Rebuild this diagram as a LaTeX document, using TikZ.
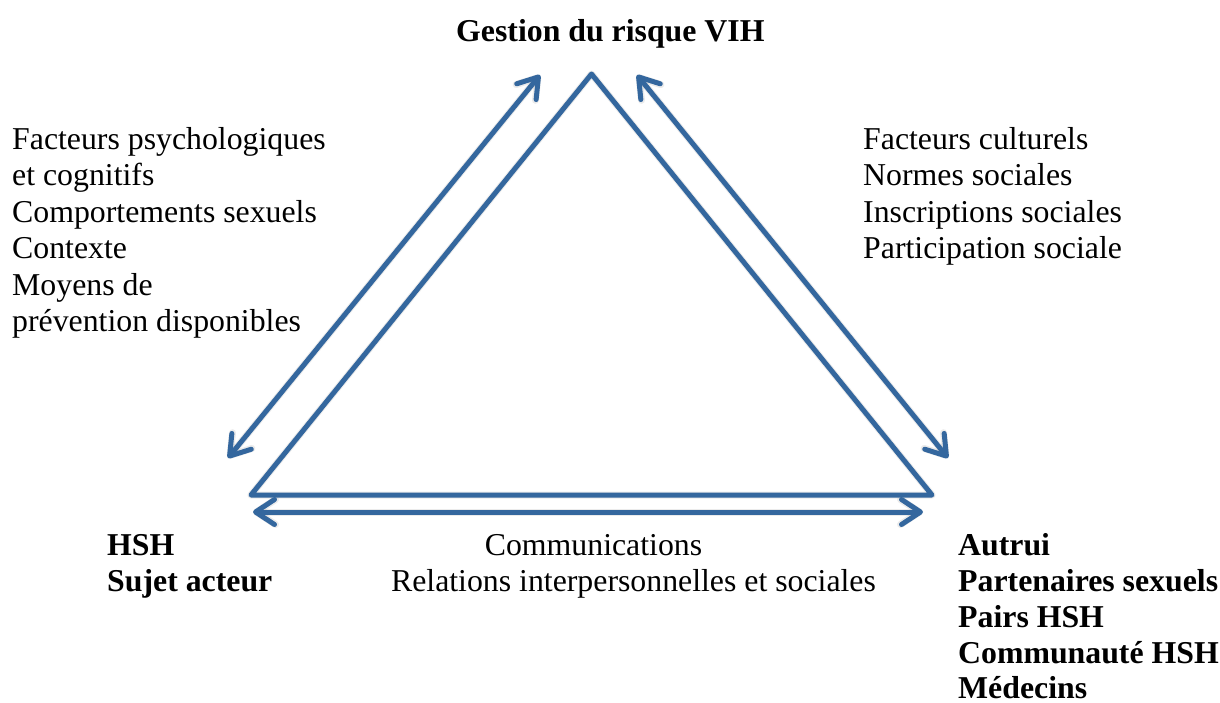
\documentclass[tikz,border=0pt]{standalone}
\usepackage{fontspec}
\setmainfont{Liberation Serif}
\usetikzlibrary{arrows.meta}
\definecolor{trblue}{RGB}{52,103,158}
\begin{document}
\begin{tikzpicture}[x=1pt,y=-1pt,
  txt/.style={anchor=base west,inner sep=0pt,font=\fontsize{31.8pt}{36.5pt}\selectfont},
  btxt/.style={txt,font=\fontsize{31.8pt}{36.5pt}\selectfont\bfseries},
  edge/.style={draw=trblue,line width=5pt,line join=round,line cap=round},
  tipb/.tip={Straight Barb[length=19pt,width=25pt,round]},
  dbl/.style={edge,tipb-tipb},
  shadow/.style={draw=black,opacity=0.08,line width=7pt,line join=round,line cap=round}
]
\useasboundingbox (0,0) rectangle (1220,702);
% triangle corners
\coordinate (top) at (591.5,74);
\coordinate (bl) at (251,495);
\coordinate (br) at (932,495);
% arrow ends
\coordinate (la1) at (228,458);
\coordinate (la2) at (540,75);
\coordinate (ra1) at (637,75);
\coordinate (ra2) at (948,458);
\coordinate (ba1) at (253,512);
\coordinate (ba2) at (923,512);
% soft shadows
\begin{scope}[shift={(2,3)}]
\draw[shadow] (top) -- (bl) -- (br) -- cycle;
\draw[shadow,tipb-tipb] (la1) -- (la2);
\draw[shadow,tipb-tipb] (ra1) -- (ra2);
\draw[shadow,tipb-tipb] (ba1) -- (ba2);
\end{scope}
% triangle
\draw[edge] (top) -- (bl) -- (br) -- cycle;
% double arrows
\draw[dbl] (la1) -- (la2);
\draw[dbl] (ra1) -- (ra2);
\draw[dbl] (ba1) -- (ba2);
% texts
\node[btxt] (title) at (456,41.5) {Gestion du risque VIH};
\node[txt] (l1) at (12,149) {Facteurs psychologiques};
\node[txt] (l2) at (12,185.5) {et cognitifs};
\node[txt] (l3) at (12,222) {Comportements sexuels};
\node[txt] (l4) at (12,258.5) {Contexte};
\node[txt] (l5) at (12,295) {Moyens de};
\node[txt] (l6) at (12,331.5) {prévention disponibles};
\node[txt] (r1) at (863,149) {Facteurs culturels};
\node[txt] (r2) at (863,185.5) {Normes sociales};
\node[txt] (r3) at (863,222) {Inscriptions sociales};
\node[txt] (r4) at (863,258.5) {Participation sociale};
\node[btxt] (h1) at (107,555) {HSH};
\node[btxt] (h2) at (107,591) {Sujet acteur};
\node[txt,anchor=base] (c1) at (593.5,555) {Communications};
\node[txt,anchor=base] (c2) at (633.5,591) {Relations interpersonnelles et sociales};
\node[btxt] (a1) at (958,555) {Autrui};
\node[btxt] (a2) at (958,591) {Partenaires sexuels};
\node[btxt] (a3) at (958,627) {Pairs HSH};
\node[btxt] (a4) at (958,663) {Communauté HSH};
\node[btxt] (a5) at (958,698) {Médecins};
\end{tikzpicture}
\end{document}
